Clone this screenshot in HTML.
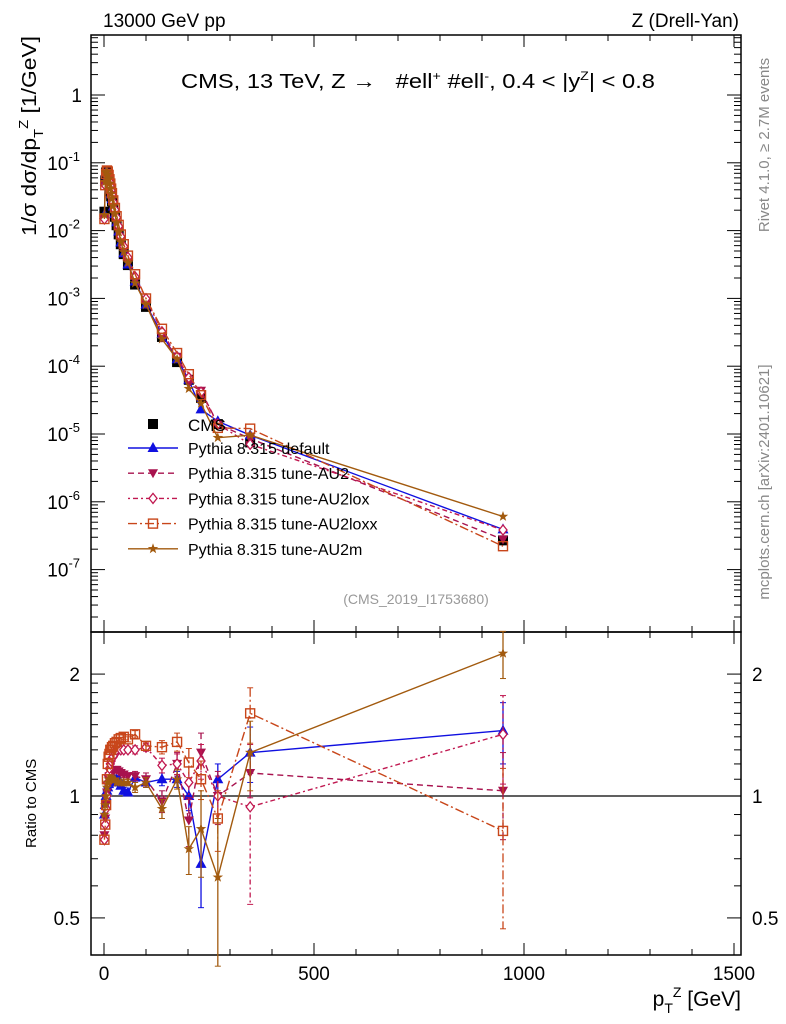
<!DOCTYPE html>
<html><head><meta charset="utf-8"><style>
html,body{margin:0;padding:0;background:#fff}
svg{display:block;font-family:"Liberation Sans",sans-serif}
</style></head><body>
<svg id="c" width="786" height="1024" xmlns="http://www.w3.org/2000/svg"></svg>
<script>
const xs = [1,3,5,7,9,11,13,15,17,19,22,26,30,35,40,47,57,74,100,138,174,202,231,271,348,950];
const cmsVals = [0.019,0.055,0.072,0.07,0.062,0.053,0.045,0.038,0.032,0.027,0.021,0.016,0.012,0.0088,0.0063,0.0045,0.0031,0.0016,7.5e-4,2.7e-4,1.15e-4,6.3e-5,3.4e-5,1.4e-5,7.5e-6,2.7e-7];
const rDefault = [0.9,0.95,1.0,1.03,1.05,1.07,1.08,1.08,1.08,1.08,1.08,1.1,1.1,1.1,1.06,1.03,1.02,1.11,1.08,1.10,1.10,1.0,0.68,1.10,1.28,1.45];
const rAU2 = [0.8,0.88,0.95,1.02,1.06,1.1,1.12,1.14,1.15,1.15,1.15,1.16,1.16,1.15,1.14,1.13,1.12,1.12,1.1,0.97,1.2,0.87,1.28,1.0,1.14,1.03];
const rAU2lox = [0.78,0.85,0.93,1.0,1.08,1.13,1.17,1.2,1.22,1.24,1.25,1.27,1.3,1.32,1.3,1.3,1.3,1.3,1.32,1.19,1.2,1.08,1.22,1.0,0.94,1.42];
const rAU2loxx = [0.78,0.85,0.95,1.1,1.2,1.25,1.27,1.3,1.3,1.32,1.33,1.35,1.36,1.38,1.39,1.4,1.38,1.42,1.33,1.32,1.36,1.21,1.1,0.88,1.6,0.82];
const rAU2m = [0.9,0.95,1.0,1.05,1.08,1.1,1.1,1.1,1.1,1.1,1.1,1.1,1.08,1.08,1.08,1.08,1.08,1.05,1.08,0.93,1.10,0.74,0.83,0.63,1.28,2.25];
const eDefault = [0,0,0,0,0,0,0,0,0,0,0,0,0,0,0,0.02,0.02,0.03,0.03,0.04,0.05,0.08,0.15,0.1,0.2,0.25];
const eAU2 = [0,0,0,0,0,0,0,0,0,0,0,0,0,0,0,0.02,0.02,0.03,0.04,0.06,0.08,0.12,0.15,0.15,0.15,0.25];
const eAU2lox = [0,0,0,0,0,0,0,0,0,0,0,0,0,0,0,0.02,0.02,0.03,0.03,0.05,0.07,0.1,0.12,0.12,0.4,0.35];
const eAU2loxx = [0,0,0,0,0,0,0,0,0,0,0,0,0,0,0,0.02,0.02,0.03,0.03,0.05,0.07,0.1,0.12,0.15,0.25,0.35];
const eAU2m = [0,0,0,0,0,0,0,0,0,0,0,0,0,0,0,0.02,0.02,0.03,0.03,0.05,0.06,0.1,0.2,0.25,0.25,0.3];
const xTicks = [0,500,1000,1500];
const yExps = [0,-1,-2,-3,-4,-5,-6,-7];
const rTicks = [0.5,1,2];

const NS="http://www.w3.org/2000/svg";
const svg=document.getElementById('c');
function el(tag,attrs,parent){const e=document.createElementNS(NS,tag);for(const k in attrs)e.setAttribute(k,attrs[k]);(parent||svg).appendChild(e);return e;}
const L=91,R=741,T=35,MB=632,RB=955;
const X=v=>104+v*0.42;
const Y=v=>95-67.8*Math.log10(v);
const RY=v=>796-405*Math.log10(v);

let f=el('rect',{x:L,y:T,width:R-L,height:MB-T,fill:'none',stroke:'#000','stroke-width':1.5});


f=el('rect',{x:L,y:MB,width:R-L,height:RB-MB,fill:'none',stroke:'#000','stroke-width':1.5});



for(let v=0;v<=1500;v+=100){const big=v%500===0;const px=X(v);
 for(const [y0,d] of [[T,1],[MB,-1],[MB,1],[RB,-1]]){el('line',{x1:px,x2:px,y1:y0,y2:y0+d*(big?12:6),stroke:'#000'});}
}
xTicks.forEach(v=>{const t=el('text',{x:X(v),y:980,'font-size':19,'text-anchor':'middle'});t.textContent=v;
 
 });

yExps.forEach(e=>{const py=Y(Math.pow(10,e));
 el('line',{x1:L,x2:L+14,y1:py,y2:py,stroke:'#000'});el('line',{x1:R,x2:R-14,y1:py,y2:py,stroke:'#000'});
 const t=el('text',{x:e===0?82:80,y:py+7,'font-size':19,'text-anchor':'end'});
 if(e===0)t.textContent='1';else{t.textContent='10';const s=el('tspan',{dy:-9,'font-size':13},t);s.textContent=e;}
 
 
});
for(let e=-8;e<=0;e++)for(let m=2;m<=9;m++){const py=Y(m*Math.pow(10,e));if(py<T||py>MB)continue;
 el('line',{x1:L,x2:L+7,y1:py,y2:py,stroke:'#000'});el('line',{x1:R,x2:R-7,y1:py,y2:py,stroke:'#000'});}

[0.5,0.6,0.7,0.8,0.9,1,1.1,1.2,1.3,1.4,1.5,1.6,1.7,1.8,1.9,2].forEach(v=>{const py=RY(v);const big=rTicks.includes(v);
 el('line',{x1:L,x2:L+(big?14:7),y1:py,y2:py,stroke:'#000'});el('line',{x1:R,x2:R-(big?14:7),y1:py,y2:py,stroke:'#000'});});
rTicks.forEach(v=>{for(const [x,a] of [[80,'end'],[752,'start']]){const t=el('text',{x:x,y:RY(v)+7,'font-size':19,'text-anchor':a});t.textContent=v;
 
 }});
el('line',{x1:L,x2:R,y1:RY(1),y2:RY(1),stroke:'#000','stroke-width':1.2});

function txt(s,attrs,name){const t=el('text',attrs);t.innerHTML=s;
 
 return t;}
txt('13000 GeV pp',{x:103,y:27,'font-size':19},'energy-label');
txt('Z (Drell-Yan)',{x:739,y:27,'font-size':19,'text-anchor':'end'},'process-label');
txt('CMS, 13 TeV, Z → &#160;&#160;#ell<tspan dy="-8" font-size="12">+</tspan><tspan dy="8"> #ell</tspan><tspan dy="-8" font-size="12">-</tspan><tspan dy="8">, 0.4 &lt; |y</tspan><tspan dy="-8" font-size="12">Z</tspan><tspan dy="8">| &lt; 0.8</tspan>',{x:181,y:88,'font-size':20,textLength:474,lengthAdjust:'spacingAndGlyphs'},'plot-title');
txt('(CMS_2019_I1753680)',{x:416,y:604,'font-size':14,fill:'#999','text-anchor':'middle'},'analysis-id');
txt('1/σ dσ/dp<tspan dy="7" font-size="13">T</tspan><tspan dy="-15" font-size="13">Z</tspan><tspan dy="8"> [1/GeV]</tspan>',{x:0,y:0,'font-size':20,textLength:200,lengthAdjust:'spacingAndGlyphs',transform:'translate(36,236) rotate(-90)'},'y-axis-title');
txt('Ratio to CMS',{x:0,y:0,'font-size':15,transform:'translate(36,848) rotate(-90)'},'ratio-axis-title');
txt('p<tspan dy="7" font-size="14">T</tspan><tspan dy="-16" font-size="14">Z</tspan><tspan dy="9"> [GeV]</tspan>',{x:741,y:1006,'font-size':21,'text-anchor':'end'},'x-axis-title');
txt('Rivet 4.1.0, ≥ 2.7M events',{x:0,y:0,'font-size':15,fill:'#888','text-anchor':'middle',transform:'translate(769,145) rotate(-90)'},'rivet-label');
txt('mcplots.cern.ch [arXiv:2401.10621]',{x:0,y:0,'font-size':15,fill:'#888','text-anchor':'middle',transform:'translate(769,482) rotate(-90)'},'mcplots-label');

function marker(kind,x,y,color,parent,name){let m;const s=5;
 if(kind==='sq')m=el('rect',{x:x-s,y:y-s,width:2*s,height:2*s,fill:color},parent);
 else if(kind==='osq')m=el('rect',{x:x-4.5,y:y-4.5,width:9,height:9,fill:'none',stroke:color,'stroke-width':1.4},parent);
 else if(kind==='up')m=el('polygon',{points:`${x},${y-6} ${x-5.5},${y+4} ${x+5.5},${y+4}`,fill:color},parent);
 else if(kind==='dn')m=el('polygon',{points:`${x},${y+5} ${x-5},${y-4} ${x+5},${y-4}`,fill:color},parent);
 else if(kind==='dia')m=el('polygon',{points:`${x},${y-5} ${x-4},${y} ${x},${y+5} ${x+4},${y}`,fill:'#fff',stroke:color,'stroke-width':1.3},parent);
 else {let p=[];for(let i=0;i<10;i++){const r=i%2?2.2:5.5,a=-Math.PI/2+i*Math.PI/5;p.push((x+r*Math.cos(a)).toFixed(1)+','+(y+r*Math.sin(a)).toFixed(1));}
  m=el('polygon',{points:p.join(' '),fill:color},parent);}
 
 
 return m;}

const series=[
 {name:'default',r:rDefault,e:eDefault,c:'#1010e0',m:'up',d:'',label:'Pythia 8.315 default'},
 {name:'au2',r:rAU2,e:eAU2,c:'#a8124e',m:'dn',d:'6,4',label:'Pythia 8.315 tune-AU2'},
 {name:'au2lox',r:rAU2lox,e:eAU2lox,c:'#c01850',m:'dia',d:'2,3,5,3',label:'Pythia 8.315 tune-AU2lox'},
 {name:'au2loxx',r:rAU2loxx,e:eAU2loxx,c:'#c8461a',m:'osq',d:'9,3,2,3',label:'Pythia 8.315 tune-AU2loxx'},
 {name:'au2m',r:rAU2m,e:eAU2m,c:'#a25a0e',m:'star',d:'',label:'Pythia 8.315 tune-AU2m'}];

const gC=el('g',{});


xs.forEach((x,i)=>marker('sq',X(x),Y(cmsVals[i]),'#000',gC,'cms-point'));

series.forEach(s=>{
 const g=el('g',{});
 
 
 const main=xs.map((x,i)=>X(x).toFixed(1)+','+Y(cmsVals[i]*s.r[i]).toFixed(1)).join(' ');
 const pl=el('polyline',{points:main,fill:'none',stroke:s.c,'stroke-width':1.4,'stroke-dasharray':s.d},g);
 
 
 const rat=xs.map((x,i)=>X(x).toFixed(1)+','+RY(s.r[i]).toFixed(1)).join(' ');
 const rl=el('polyline',{points:rat,fill:'none',stroke:s.c,'stroke-width':1.4,'stroke-dasharray':s.d},g);
 
 
 xs.forEach((x,i)=>{const px=X(x);
  if(s.e[i]>0){const y1=RY(s.r[i]+s.e[i]),y2=RY(Math.max(0.3,s.r[i]-s.e[i]));
   el('line',{x1:px,x2:px,y1:y1,y2:y2,stroke:s.c,'stroke-width':1.3,'stroke-dasharray':s.d},g);
   el('line',{x1:px-3,x2:px+3,y1:y1,y2:y1,stroke:s.c},g);el('line',{x1:px-3,x2:px+3,y1:y2,y2:y2,stroke:s.c},g);}
  marker(s.m,px,Y(cmsVals[i]*s.r[i]),s.c,g,'point-main-'+s.name);
  marker(s.m,px,RY(s.r[i]),s.c,g,'point-ratio-'+s.name);
 });
});

const lg=el('g',{});


marker('sq',153,424,'#000',lg,'legend-marker-cms');
let lt=el('text',{x:188,y:431,'font-size':17},lg);lt.textContent='CMS';


series.forEach((s,i)=>{const y=448+i*25.2;
 el('line',{x1:128,x2:178,y1:y,y2:y,stroke:s.c,'stroke-width':1.4,'stroke-dasharray':s.d},lg);
 marker(s.m,153,y,s.c,lg,'legend-marker-'+s.name);
 const t=el('text',{x:188,y:y+6,'font-size':16},lg);t.textContent=s.label;
 
 
});
</script>
</body></html>
